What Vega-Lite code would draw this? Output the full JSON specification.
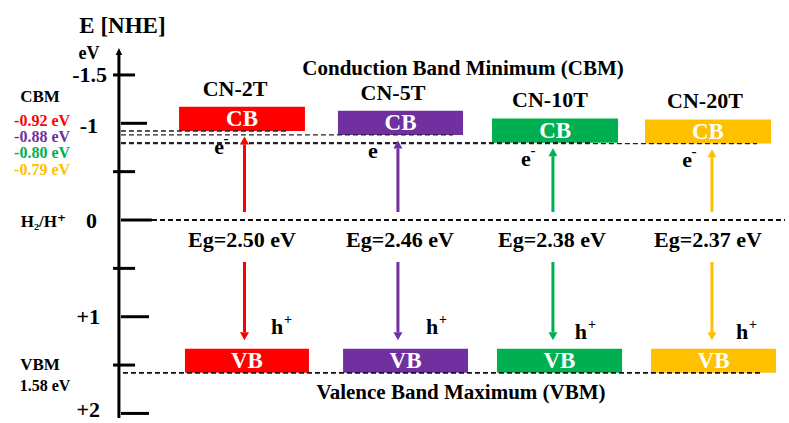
{
  "$schema": "https://vega.github.io/schema/vega-lite/v6.json",
  "description": "Band-edge diagram (E vs NHE) for the CN-2T, CN-5T, CN-10T and CN-20T samples.",
  "width": 789,
  "height": 423,
  "autosize": {"type": "none"},
  "padding": 0,
  "background": "#ffffff",
  "config": {
    "view": {"stroke": null},
    "font": "Times New Roman, Liberation Serif, DejaVu Serif, serif",
    "text": {"font": "Times New Roman, Liberation Serif, DejaVu Serif, serif", "fontWeight": "bold", "align": "center", "baseline": "middle"}
  },
  "encoding": {
    "x": {"field": "x", "type": "quantitative", "scale": {"domain": [-0.5613, 4.529], "nice": false, "zero": false}, "axis": null},
    "y": {"field": "y", "type": "quantitative", "scale": {"domain": [-2.275, 2.099], "reverse": true, "nice": false, "zero": false}, "axis": null}
  },
  "layer": [
    {
      "description": "Conduction and valence band blocks",
      "data": {"values": [
        {"sample": "CN-2T", "band": "CB", "x": 0.594, "x2": 1.406, "y": -1.17, "y2": -0.92},
        {"sample": "CN-5T", "band": "CB", "x": 1.619, "x2": 2.426, "y": -1.13, "y2": -0.88},
        {"sample": "CN-10T", "band": "CB", "x": 2.613, "x2": 3.426, "y": -1.05, "y2": -0.80},
        {"sample": "CN-20T", "band": "CB", "x": 3.6, "x2": 4.413, "y": -1.04, "y2": -0.79},
        {"sample": "CN-2T", "band": "VB", "x": 0.632, "x2": 1.432, "y": 1.33, "y2": 1.58},
        {"sample": "CN-5T", "band": "VB", "x": 1.652, "x2": 2.458, "y": 1.33, "y2": 1.58},
        {"sample": "CN-10T", "band": "VB", "x": 2.645, "x2": 3.452, "y": 1.33, "y2": 1.58},
        {"sample": "CN-20T", "band": "VB", "x": 3.639, "x2": 4.445, "y": 1.33, "y2": 1.58}
      ]},
      "mark": {"type": "rect"},
      "encoding": {
        "x2": {"field": "x2"},
        "y2": {"field": "y2"},
        "color": {"field": "sample", "type": "nominal", "scale": {"domain": ["CN-2T", "CN-5T", "CN-10T", "CN-20T"], "range": ["#ff0000", "#7030a0", "#00b050", "#ffc000"]}, "legend": null}
      }
    },
    {
      "description": "CB / VB captions inside the blocks",
      "data": {"values": [
        {"band": "CB", "x": 1.0, "y": -1.045},
        {"band": "CB", "x": 2.023, "y": -1.005},
        {"band": "CB", "x": 3.02, "y": -0.925},
        {"band": "CB", "x": 4.006, "y": -0.915},
        {"band": "VB", "x": 1.032, "y": 1.455},
        {"band": "VB", "x": 2.055, "y": 1.455},
        {"band": "VB", "x": 3.048, "y": 1.455},
        {"band": "VB", "x": 4.042, "y": 1.455}
      ]},
      "mark": {"type": "text", "color": "#ffffff", "fontSize": 23},
      "encoding": {"text": {"field": "band"}}
    },
    {
      "description": "Dashed CBM levels",
      "data": {"values": [
        {"sample": "CN-2T", "x": 0.219, "x2": 1.297, "y": -0.92},
        {"sample": "CN-5T", "x": 0.219, "x2": 2.361, "y": -0.88},
        {"sample": "CN-10T", "x": 0.219, "x2": 3.265, "y": -0.80},
        {"sample": "CN-20T", "x": 0.219, "x2": 4.323, "y": -0.79}
      ]},
      "mark": {"type": "rule", "color": "#222222", "strokeWidth": 1.4, "strokeDash": [5, 3]},
      "encoding": {"x2": {"field": "x2"}}
    },
    {
      "description": "Dashed H2/H+ level and VBM level",
      "data": {"values": [
        {"level": "H2/H+", "x": 0.419, "x2": 4.503, "y": 0},
        {"level": "VBM", "x": 0.232, "x2": 4.355, "y": 1.58}
      ]},
      "mark": {"type": "rule", "color": "#111111", "strokeWidth": 1.8, "strokeDash": [5, 3]},
      "encoding": {"x2": {"field": "x2"}}
    },
    {
      "description": "Energy axis line",
      "data": {"values": [{"x": 0.206, "y": -1.706, "y2": 2.048}]},
      "mark": {"type": "rule", "color": "#000000", "strokeWidth": 3},
      "encoding": {"y2": {"field": "y2"}}
    },
    {
      "description": "Energy axis arrow head",
      "data": {"values": [{"x": 0.206, "y": -1.706}]},
      "mark": {"type": "point", "shape": "M0,-1.4L0.65,0L-0.65,0Z", "size": 100, "filled": true, "opacity": 1, "color": "#000000", "strokeWidth": 0}
    },
    {
      "description": "Energy axis ticks",
      "data": {"values": [
        {"y": -1.5, "x": 0.168, "x2": 0.31},
        {"y": -1, "x": 0.219, "x2": 0.387},
        {"y": -0.5, "x": 0.168, "x2": 0.31},
        {"y": 0, "x": 0.219, "x2": 0.419},
        {"y": 0.5, "x": 0.168, "x2": 0.31},
        {"y": 1, "x": 0.219, "x2": 0.4},
        {"y": 1.5, "x": 0.168, "x2": 0.31},
        {"y": 2, "x": 0.219, "x2": 0.4}
      ]},
      "mark": {"type": "rule", "color": "#000000", "strokeWidth": 3},
      "encoding": {"x2": {"field": "x2"}}
    },
    {
      "description": "Electron excitation (up) and hole (down) arrow shafts",
      "data": {"name": "arrows", "values": [
        {"sample": "CN-2T", "dir": "up", "x": 1.016, "y": -0.083, "y2": -0.78},
        {"sample": "CN-5T", "dir": "up", "x": 2.006, "y": -0.083, "y2": -0.74},
        {"sample": "CN-10T", "dir": "up", "x": 3.006, "y": -0.083, "y2": -0.66},
        {"sample": "CN-20T", "dir": "up", "x": 4.032, "y": -0.083, "y2": -0.65},
        {"sample": "CN-2T", "dir": "down", "x": 1.016, "y": 0.434, "y2": 1.16},
        {"sample": "CN-5T", "dir": "down", "x": 2.006, "y": 0.434, "y2": 1.16},
        {"sample": "CN-10T", "dir": "down", "x": 3.006, "y": 0.434, "y2": 1.16},
        {"sample": "CN-20T", "dir": "down", "x": 4.032, "y": 0.434, "y2": 1.16}
      ]},
      "layer": [
        {
          "mark": {"type": "rule", "strokeWidth": 3},
          "encoding": {
            "y2": {"field": "y2"},
            "color": {"field": "sample", "type": "nominal", "legend": null}
          }
        },
        {
          "mark": {"type": "point", "size": 100, "filled": true, "opacity": 1, "strokeWidth": 0},
          "encoding": {
            "y": {"field": "y2", "type": "quantitative", "scale": {"domain": [-2.275, 2.099], "reverse": true, "nice": false, "zero": false}, "axis": null},
            "shape": {"field": "dir", "type": "nominal", "scale": {"domain": ["up", "down"], "range": ["M0,-1.6L0.9,0L-0.9,0Z", "M0,1.6L0.9,0L-0.9,0Z"]}, "legend": null},
            "color": {"field": "sample", "type": "nominal", "legend": null}
          }
        }
      ]
    },
    {
      "description": "Sample names above the conduction bands",
      "data": {"values": [
        {"sample": "CN-2T", "x": 0.955, "y": -1.356},
        {"sample": "CN-5T", "x": 1.974, "y": -1.316},
        {"sample": "CN-10T", "x": 2.987, "y": -1.236},
        {"sample": "CN-20T", "x": 3.987, "y": -1.226}
      ]},
      "mark": {"type": "text", "color": "#000000", "fontSize": 22},
      "encoding": {"text": {"field": "sample"}}
    },
    {
      "description": "Band gap values",
      "data": {"values": [
        {"label": "Eg=2.50 eV", "x": 1.0, "y": 0.207},
        {"label": "Eg=2.46 eV", "x": 2.019, "y": 0.207},
        {"label": "Eg=2.38 eV", "x": 3.0, "y": 0.207},
        {"label": "Eg=2.37 eV", "x": 4.006, "y": 0.207}
      ]},
      "mark": {"type": "text", "color": "#000000", "fontSize": 22},
      "encoding": {"text": {"field": "label"}}
    },
    {
      "description": "Electron symbols",
      "data": {"values": [
        {"carrier": "e", "charge": "-", "x": 0.852, "y": -0.75},
        {"carrier": "e", "charge": "-", "x": 1.845, "y": -0.71},
        {"carrier": "e", "charge": "-", "x": 2.832, "y": -0.63},
        {"carrier": "e", "charge": "-", "x": 3.871, "y": -0.62}
      ]},
      "layer": [
        {"mark": {"type": "text", "color": "#000000", "fontSize": 22}, "encoding": {"text": {"field": "carrier"}}},
        {"mark": {"type": "text", "color": "#000000", "fontSize": 15, "dx": 7, "dy": -9}, "encoding": {"text": {"field": "charge"}}}
      ]
    },
    {
      "description": "Hole symbols",
      "data": {"values": [
        {"carrier": "h", "charge": "+", "x": 1.226, "y": 1.111},
        {"carrier": "h", "charge": "+", "x": 2.226, "y": 1.111},
        {"carrier": "h", "charge": "+", "x": 3.187, "y": 1.163},
        {"carrier": "h", "charge": "+", "x": 4.226, "y": 1.163}
      ]},
      "layer": [
        {"mark": {"type": "text", "color": "#000000", "fontSize": 22}, "encoding": {"text": {"field": "carrier"}}},
        {"mark": {"type": "text", "color": "#000000", "fontSize": 14, "dx": 11, "dy": -7}, "encoding": {"text": {"field": "charge"}}}
      ]
    },
    {
      "description": "Energy axis numbers",
      "data": {"values": [
        {"t": "-1.5", "x": 0.129, "y": -1.5},
        {"t": "-1", "x": 0.071, "y": -0.97},
        {"t": "0", "x": 0.065, "y": 0.01},
        {"t": "+1", "x": 0.084, "y": 1},
        {"t": "+2", "x": 0.084, "y": 1.965}
      ]},
      "mark": {"type": "text", "color": "#000000", "fontSize": 22, "align": "right"},
      "encoding": {"text": {"field": "t"}}
    },
    {
      "description": "Axis title",
      "data": {"values": [{"t": "E [NHE]", "x": 0.229, "y": -2.006}]},
      "mark": {"type": "text", "color": "#000000", "fontSize": 23},
      "encoding": {"text": {"field": "t"}}
    },
    {
      "description": "Axis unit",
      "data": {"values": [{"t": "eV", "x": 0.013, "y": -1.717}]},
      "mark": {"type": "text", "color": "#000000", "fontSize": 18},
      "encoding": {"text": {"field": "t"}}
    },
    {
      "description": "Level names on the left",
      "data": {"values": [
        {"t": "CBM", "x": -0.303, "y": -1.267},
        {"t": "H₂/H⁺", "x": -0.282, "y": 0.02},
        {"t": "VBM", "x": -0.303, "y": 1.5}
      ]},
      "mark": {"type": "text", "color": "#000000", "fontSize": 17},
      "encoding": {"text": {"field": "t"}}
    },
    {
      "description": "CBM values per sample",
      "data": {"values": [
        {"sample": "CN-2T", "t": "-0.92 eV", "x": -0.29, "y": -1.024},
        {"sample": "CN-5T", "t": "-0.88 eV", "x": -0.29, "y": -0.858},
        {"sample": "CN-10T", "t": "-0.80 eV", "x": -0.29, "y": -0.693},
        {"sample": "CN-20T", "t": "-0.79 eV", "x": -0.29, "y": -0.517}
      ]},
      "mark": {"type": "text", "fontSize": 16},
      "encoding": {
        "text": {"field": "t"},
        "color": {"field": "sample", "type": "nominal", "legend": null}
      }
    },
    {
      "description": "Common VBM value",
      "data": {"values": [{"t": "1.58 eV", "x": -0.271, "y": 1.717}]},
      "mark": {"type": "text", "color": "#000000", "fontSize": 16},
      "encoding": {"text": {"field": "t"}}
    },
    {
      "description": "Band edge headings",
      "data": {"values": [
        {"t": "Conduction Band Minimum (CBM)", "x": 2.426, "y": -1.562},
        {"t": "Valence Band Maximum (VBM)", "x": 2.413, "y": 1.789}
      ]},
      "mark": {"type": "text", "color": "#000000", "fontSize": 21},
      "encoding": {"text": {"field": "t"}}
    }
  ]
}
